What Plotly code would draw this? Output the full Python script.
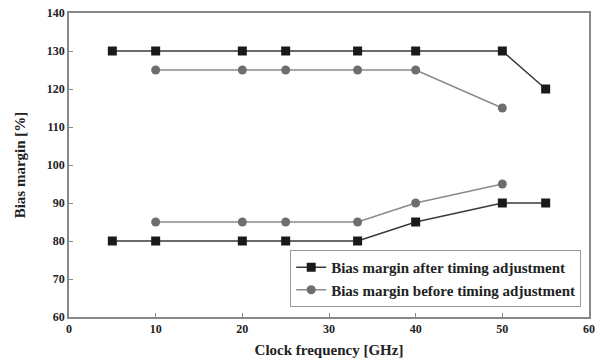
import plotly.graph_objects as go

freq_after = [5, 10, 20, 25, 33.3, 40, 50, 55]
after_upper = [130, 130, 130, 130, 130, 130, 130, 120]
after_lower = [80, 80, 80, 80, 80, 85, 90, 90]

freq_before = [10, 20, 25, 33.3, 40, 50]
before_upper = [125, 125, 125, 125, 125, 115]
before_lower = [85, 85, 85, 85, 90, 95]

name_after = "Bias margin after timing adjustment"
name_before = "Bias margin before timing adjustment"

FONT = "Liberation Serif"

fig = go.Figure()

after_line = dict(color="#3a3a3a", width=1.5)
after_marker = dict(symbol="square", size=9, color="#1a1a1a")
before_line = dict(color="#8a8a8a", width=1.5)
before_marker = dict(symbol="circle", size=9, color="#6e6e6e")

fig.add_trace(go.Scatter(x=freq_after, y=after_upper, mode="lines+markers",
                         name=name_after, legendgroup="a", line=after_line,
                         marker=after_marker, showlegend=True))
fig.add_trace(go.Scatter(x=freq_before, y=before_upper, mode="lines+markers",
                         name=name_before, legendgroup="b", line=before_line,
                         marker=before_marker, showlegend=True))
fig.add_trace(go.Scatter(x=freq_after, y=after_lower, mode="lines+markers",
                         name=name_after, legendgroup="a", line=after_line,
                         marker=after_marker, showlegend=False))
fig.add_trace(go.Scatter(x=freq_before, y=before_lower, mode="lines+markers",
                         name=name_before, legendgroup="b", line=before_line,
                         marker=before_marker, showlegend=False))

axis_common = dict(
    showgrid=False, zeroline=False, showline=True, linecolor="#888888",
    linewidth=1.5, mirror=True, ticks="inside", ticklen=4, tickcolor="#888888",
    tickfont=dict(family=FONT, size=12, color="#222222"), automargin=False,
)

fig.update_xaxes(range=[0, 60], dtick=10, tick0=0,
                 title=dict(text="<b>Clock frequency [GHz]</b>",
                            font=dict(family=FONT, size=15, color="#222222"),
                            standoff=9),
                 tickprefix="<b>", ticksuffix="</b>", **axis_common)
fig.update_yaxes(range=[60, 140], dtick=10, tick0=60,
                 title=dict(text="<b>Bias margin [%]</b>",
                            font=dict(family=FONT, size=15, color="#222222"),
                            standoff=18),
                 tickprefix="<b>", ticksuffix="</b>", **axis_common)

fig.update_layout(
    width=598, height=358,
    margin=dict(l=69, r=9, t=13, b=41),
    paper_bgcolor="white", plot_bgcolor="white",
    font=dict(family=FONT, color="#222222"),
    legend=dict(x=0.985, y=0.033, xanchor="right", yanchor="bottom",
                bgcolor="white", bordercolor="#999999", borderwidth=1,
                font=dict(family=FONT, size=15, color="#222222"),
                itemwidth=30, tracegroupgap=0),
    showlegend=True,
)

for tr in fig.data:
    tr.name = "<b>" + tr.name + "</b>"

fig.write_html("out.html")
